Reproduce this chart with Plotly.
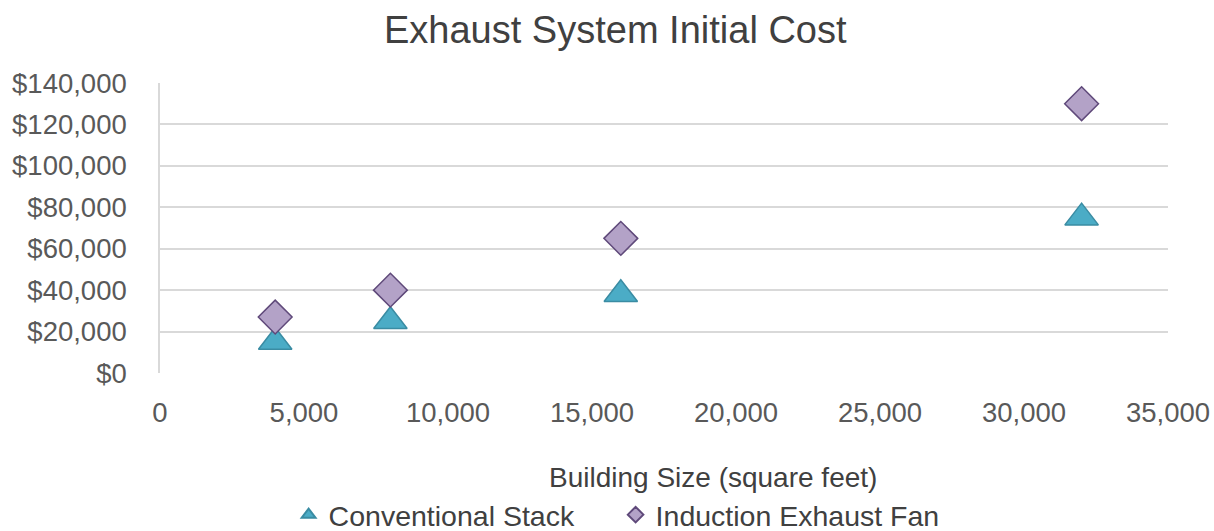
import plotly.graph_objects as go

building_size = [4000, 8000, 16000, 32000]
conventional_stack = [15000, 25000, 38000, 75000]
induction_fan = [27000, 40000, 65000, 130000]
y_ticks = [0, 20000, 40000, 60000, 80000, 100000, 120000, 140000]
y_tick_labels = ["$0", "$20,000", "$40,000", "$60,000", "$80,000", "$100,000", "$120,000", "$140,000"]
x_ticks = [0, 5000, 10000, 15000, 20000, 25000, 30000, 35000]
x_tick_labels = ["0", "5,000", "10,000", "15,000", "20,000", "25,000", "30,000", "35,000"]

FONT = "Liberation Sans, Arial, sans-serif"

fig = go.Figure()
fig.add_trace(go.Scatter(
    x=building_size, y=conventional_stack, mode="markers", name="Conventional Stack",
    marker=dict(symbol="triangle-up", size=29, color="#4BACC6",
                line=dict(color="#3A8CA3", width=1.5)),
))
fig.add_trace(go.Scatter(
    x=building_size, y=induction_fan, mode="markers", name="Induction Exhaust Fan",
    marker=dict(symbol="diamond", size=26, color="#B3A2C7",
                line=dict(color="#5F497A", width=1.5)),
))

fig.update_layout(
    width=1214, height=531,
    margin=dict(l=160, r=46, t=83, b=158, autoexpand=False),
    paper_bgcolor="white", plot_bgcolor="white",
    font=dict(family=FONT, color="#595959", size=27),
    showlegend=True,
    legend=dict(orientation="h", x=0.452, xanchor="center", y=-0.49, yanchor="middle",
                font=dict(size=28.5, color="#404040"), itemsizing="constant",
                itemwidth=30, tracegroupgap=0, entrywidth=282),
    annotations=[
        dict(text="Exhaust System Initial Cost", xref="paper", yref="paper",
             x=0.452, y=1.183, xanchor="center", yanchor="middle", showarrow=False,
             font=dict(size=38, color="#404040", family=FONT)),
        dict(text="Building Size (square feet)", xref="paper", yref="paper",
             x=0.549, y=-0.362, xanchor="center", yanchor="middle", showarrow=False,
             font=dict(size=28, color="#404040", family=FONT)),
    ],
)
fig.update_xaxes(
    range=[0, 35000], tickvals=x_ticks, ticktext=x_tick_labels,
    showgrid=False, zeroline=False, showline=False, automargin=False,
    ticks="", ticklabelstandoff=20,
    tickfont=dict(size=27.5, color="#595959"),
)
fig.update_yaxes(
    range=[0, 140000], tickvals=y_ticks, ticktext=y_tick_labels,
    showgrid=True, gridcolor="#D9D9D9", gridwidth=1.5,
    zeroline=False, showline=True, linecolor="#D9D9D9", linewidth=1.5,
    automargin=False, ticks="", ticklabelstandoff=26,
    tickfont=dict(size=27.5, color="#595959"),
)

# remove the browser's default 8px body margin so the figure fills the window exactly
fig.write_html("out.html", config={"displayModeBar": False},
               post_script="document.body.style.margin='0';document.body.style.overflow='hidden';")
